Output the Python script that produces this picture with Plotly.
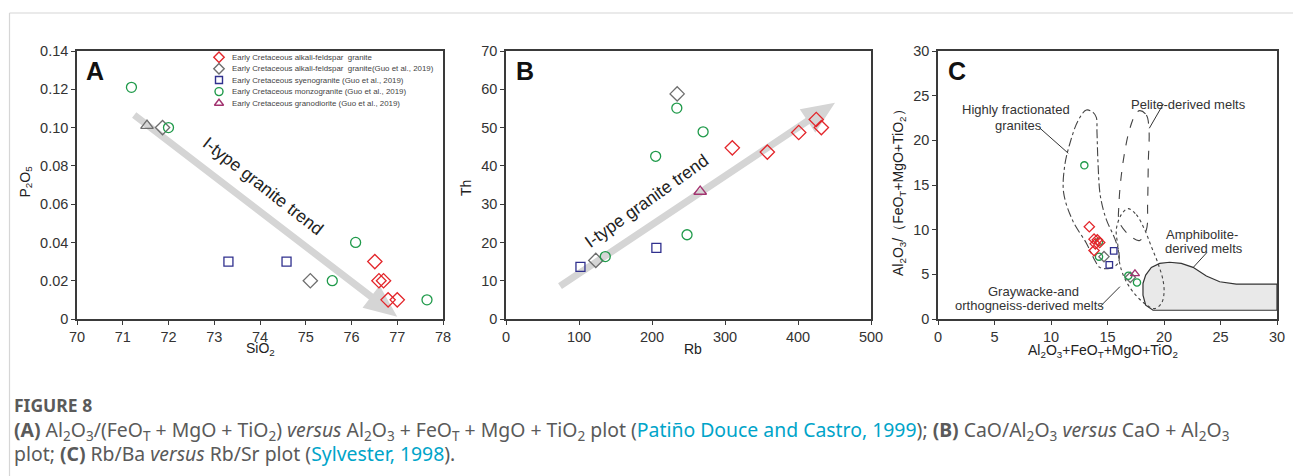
import math
import plotly.graph_objects as go

W, H = 1293, 476

# ---------------- data ----------------
# Panel A : SiO2 vs P2O5
a_red_x = [76.51, 76.6, 76.7, 76.8, 77.0]
a_red_y = [0.03, 0.02, 0.02, 0.01, 0.01]
a_grey_x = [71.87, 75.1]
a_grey_y = [0.10, 0.02]
a_blue_x = [73.31, 74.58]
a_blue_y = [0.03, 0.03]
a_green_x = [71.19, 72.0, 76.09, 75.58, 77.65]
a_green_y = [0.121, 0.10, 0.04, 0.02, 0.01]
a_tri_x = [71.53]
a_tri_y = [0.101]

# Panel B : Rb vs Th
b_red_x = [310, 358, 401, 425, 432]
b_red_y = [44.7, 43.6, 48.7, 52.1, 50.0]
b_grey_x = [234.5, 123]
b_grey_y = [58.8, 15.3]
b_blue_x = [102, 206]
b_blue_y = [13.6, 18.6]
b_green_x = [234, 205, 270, 248, 136]
b_green_y = [55.1, 42.5, 48.9, 22.0, 16.3]
b_tri_x = [266]
b_tri_y = [33.3]

# Panel C : Al2O3+FeOT+MgO+TiO2 vs Al2O3/(FeOT+MgO+TiO2)
c_red_x = [13.39, 13.81, 14.1, 14.31, 13.92, 13.81]
c_red_y = [10.33, 8.94, 8.86, 8.56, 8.41, 7.66]
c_grey_x = [14.69, 17.02]
c_grey_y = [6.98, 4.66]
c_blue_x = [15.55, 15.16]
c_blue_y = [7.62, 6.05]
c_green_x = [12.95, 14.25, 14.25, 16.84, 17.61]
c_green_y = [17.2, 6.98, 8.64, 4.84, 4.09]
c_tri_x = [17.43]
c_tri_y = [5.07]

# field outlines in panel C
hf_x = [13.13, 13.72, 14.01, 14.07, 14.16, 14.37, 14.9, 15.63, 16.02, 15.93, 15.19, 14.31, 13.86,
        13.13, 11.95, 11.12, 11.21, 11.65, 12.39, 13.13]
hf_y = [23.39, 23.13, 22.57, 20.88, 17.5, 13.74, 11.12, 9.05, 7.36, 6.23, 5.67, 5.78, 6.61,
        8.49, 10.93, 14.12, 17.12, 19.56, 22.19, 23.39]
pel_x = [17.85, 18.44, 18.67, 18.61, 18.55, 18.44, 17.85, 17.26, 16.08, 16.02, 16.37, 16.96, 17.49, 17.85]
pel_y = [23.32, 22.83, 21.25, 17.5, 12.99, 9.99, 8.79, 9.05, 10.74, 12.99, 17.5, 21.25, 22.94, 23.32]
gw_x = [16.81, 17.55, 18.29, 18.88, 19.47, 19.91, 20.0, 19.76, 19.17, 18.29, 17.26, 16.52, 16.08,
        15.93, 15.78, 16.22, 16.81]
gw_y = [12.35, 11.68, 9.99, 8.11, 6.23, 4.36, 2.85, 1.73, 1.16, 1.73, 3.04, 4.54, 6.23,
        8.11, 9.99, 11.68, 12.35]
am_x = [30.0, 19.03, 18.38, 18.14, 18.14, 18.38, 18.88, 19.62, 20.5, 21.53, 22.57, 23.75, 24.93, 26.4, 30.0, 30.0]
am_y = [0.98, 0.98, 1.54, 2.67, 3.98, 4.92, 5.78, 6.23, 6.35, 6.23, 5.78, 4.81, 4.17, 3.9, 3.9, 0.98]

legend_labels = [
    "Early Cretaceous alkali-feldspar  granite",
    "Early Cretaceous alkali-feldspar  granite(Guo et al., 2019)",
    "Early Cretaceous syenogranite (Guo et al., 2019)",
    "Early Cretaceous monzogranite (Guo et al., 2019)",
    "Early Cretaceous granodiorite (Guo et al., 2019)",
]

a_xticks = [70, 71, 72, 73, 74, 75, 76, 77, 78]
a_yticks = [0, 0.02, 0.04, 0.06, 0.08, 0.10, 0.12, 0.14]
a_yticktext = ["0", "0.02", "0.04", "0.06", "0.08", "0.10", "0.12", "0.14"]
b_xticks = [0, 100, 200, 300, 400, 500]
b_yticks = [0, 10, 20, 30, 40, 50, 60, 70]
c_ticks = [0, 5, 10, 15, 20, 25, 30]

# ---------------- styles ----------------
RED = "#e3262b"
GREY = "#6e6e6e"
BLUE = "#30308e"
GREEN = "#1f9a4a"
PURP = "#a2336f"
AXC = "#3a3a3a"
FONT = "Liberation Sans, Arial, sans-serif"

# pixel geometry of the three panels
TOP, BOT = 51, 319
PX = {"A": (77, 443), "B": (506, 871), "C": (938, 1277)}
RNG = {"A": ((70, 78), (0, 0.14)), "B": ((0, 500), (0, 70)), "C": ((0, 30), (0, 30))}

fig = go.Figure()


def add_series(xs, ys, sym, col, size, ax, lw=1.3):
    fig.add_trace(go.Scatter(
        x=xs, y=ys, mode="markers", xaxis=ax[0], yaxis=ax[1], showlegend=False,
        marker=dict(symbol=sym, size=size, color=col, line=dict(color=col, width=lw)),
        hoverinfo="x+y"))


# Panel C fields (drawn first)
fig.add_trace(go.Scatter(x=am_x, y=am_y, mode="lines", fill="toself", fillcolor="#e9e9e9",
                         line=dict(color="#333", width=1.2), xaxis="x3", yaxis="y3",
                         showlegend=False, hoverinfo="skip"))
fig.add_trace(go.Scatter(x=hf_x, y=hf_y, mode="lines", line=dict(color="#444", width=1.1, dash="dashdot", shape="spline"),
                         xaxis="x3", yaxis="y3", showlegend=False, hoverinfo="skip"))
fig.add_trace(go.Scatter(x=pel_x, y=pel_y, mode="lines", line=dict(color="#444", width=1.1, dash="dash", shape="spline"),
                         xaxis="x3", yaxis="y3", showlegend=False, hoverinfo="skip"))
fig.add_trace(go.Scatter(x=gw_x, y=gw_y, mode="lines", line=dict(color="#444", width=1.1, dash="dot", shape="spline"),
                         xaxis="x3", yaxis="y3", showlegend=False, hoverinfo="skip"))

for ax, d, ms in [(("x", "y"), "a", 1.0), (("x2", "y2"), "b", 1.0), (("x3", "y3"), "c", 0.72)]:
    g = globals()
    add_series(g[d + "_grey_x"], g[d + "_grey_y"], "diamond-open", GREY, 11 * ms, ax)
    add_series(g[d + "_blue_x"], g[d + "_blue_y"], "square-open", BLUE, 9 * ms, ax)
    add_series(g[d + "_green_x"], g[d + "_green_y"], "circle-open", GREEN, 10 * ms, ax)
    add_series(g[d + "_tri_x"], g[d + "_tri_y"], "triangle-up-open", GREY if d == "a" else PURP, 11 * ms, ax)
    add_series(g[d + "_red_x"], g[d + "_red_y"], "diamond-open", RED, 11 * ms, ax)

# legend keys on a pixel overlay axis
leg_px_x = 219
leg_rows = [57.3, 68.7, 80.0, 91.6, 103.2]
leg_sym = ["diamond-open", "diamond-open", "square-open", "circle-open", "triangle-up-open"]
leg_col = [RED, GREY, BLUE, GREEN, PURP]
leg_size = [8, 8, 7, 8, 8]
for yy, s, c, sz in zip(leg_rows, leg_sym, leg_col, leg_size):
    fig.add_trace(go.Scatter(x=[leg_px_x], y=[yy], mode="markers", xaxis="x4", yaxis="y4", showlegend=False,
                             marker=dict(symbol=s, size=sz, color=c, line=dict(color=c, width=1.4)),
                             hoverinfo="skip"))

annotations = []
for lab, yy in zip(legend_labels, leg_rows):
    annotations.append(dict(x=230 / W, y=1 - yy / H, xref="paper", yref="paper", text=lab, showarrow=False,
                            xanchor="left", yanchor="middle", font=dict(family=FONT, size=7.9, color="#444")))


# -------- arrows (drawn below markers) --------
def arrow_shape(panel, p0, p1, axn, shaft=7.0, head_len=33.0, head_half=14.0):
    (x0r, x1r), (y0r, y1r) = RNG[panel]
    px0, px1 = PX[panel]

    def to_px(x, y):
        return (px0 + (x - x0r) / (x1r - x0r) * (px1 - px0), BOT - (y - y0r) / (y1r - y0r) * (BOT - TOP))

    def to_d(px, py):
        return (x0r + (px - px0) / (px1 - px0) * (x1r - x0r), y0r + (BOT - py) / (BOT - TOP) * (y1r - y0r))

    sx, sy = to_px(*p0)
    ex, ey = to_px(*p1)
    L = math.hypot(ex - sx, ey - sy)
    ux, uy = (ex - sx) / L, (ey - sy) / L
    nx, ny = -uy, ux
    bx, by = ex - ux * head_len, ey - uy * head_len
    pts = [(sx + nx * shaft / 2, sy + ny * shaft / 2), (bx + nx * shaft / 2, by + ny * shaft / 2),
           (bx + nx * head_half, by + ny * head_half), (ex, ey),
           (bx - nx * head_half, by - ny * head_half), (bx - nx * shaft / 2, by - ny * shaft / 2),
           (sx - nx * shaft / 2, sy - ny * shaft / 2)]
    dp = [to_d(*p) for p in pts]
    path = "M " + " L ".join(f"{x:.5f},{y:.6f}" for x, y in dp) + " Z"
    return dict(type="path", path=path, xref=axn[0], yref=axn[1], fillcolor="#d5d5d5",
                line=dict(width=0), layer="below")


shapes = []
shapes.append(arrow_shape("A", (71.25, 0.1066), (77.0, 0.0012), ("x", "y")))
shapes.append(arrow_shape("B", (74, 8.6), (450.7, 56.5), ("x2", "y2")))

# leader lines panel C
for (xa, ya, xb, yb) in [(9.03, 21.35, 11.53, 18.55), (19.94, 24.07, 18.7, 21.35),
                         (22.6, 5.79, 23.78, 7.42), (14.34, 1.38, 16.1, 3.62)]:
    shapes.append(dict(type="line", x0=xa, y0=ya, x1=xb, y1=yb, xref="x3", yref="y3",
                       line=dict(color="#333", width=1)))

# page frame lines
shapes.append(dict(type="line", xref="paper", yref="paper", x0=9.5 / W, x1=1, y0=1 - 13 / H, y1=1 - 13 / H,
                   line=dict(color="#d6d6d6", width=1.2)))
shapes.append(dict(type="line", xref="paper", yref="paper", x0=9.5 / W, x1=9.5 / W, y0=0, y1=1 - 13 / H,
                   line=dict(color="#d6d6d6", width=1.2)))

# trend texts
annotations.append(dict(x=74.07, y=0.0697, xref="x", yref="y", text="I-type granite trend", showarrow=False,
                        textangle=38, font=dict(family=FONT, size=17.5, color="#222")))
annotations.append(dict(x=192.4, y=30.9, xref="x2", yref="y2", text="I-type granite trend", showarrow=False,
                        textangle=-35.5, font=dict(family=FONT, size=17.5, color="#222")))


def pann(px, py, text, font, **kw):
    d = dict(x=px / W, y=1 - py / H, xref="paper", yref="paper", text=text, showarrow=False,
             xanchor="center", yanchor="middle", font=font)
    d.update(kw)
    return d


# panel letters
for lab, px in [("A", 95), ("B", 524.5), ("C", 957)]:
    annotations.append(pann(px, 70.5, "<b>" + lab + "</b>", dict(family=FONT, size=25, color="#111")))

# panel C field labels
for txt, x, y in [("Highly fractionated", 6.9, 23.4), ("granites", 7.08, 21.7),
                  ("Pelite-derived melts", 22.17, 23.96), ("Amphibolite-", 23.4, 9.5),
                  ("derived melts", 23.54, 7.87), ("Graywacke-and", 8.44, 3.13),
                  ("orthogneiss-derived melts", 8.14, 1.46)]:
    annotations.append(dict(x=x, y=y, xref="x3", yref="y3", text=txt, showarrow=False,
                            font=dict(family=FONT, size=13, color="#333")))

# axis titles
TF = dict(family=FONT, size=14, color="#222")
annotations += [
    pann(260, 349, "SiO<sub>2</sub>", TF),
    pann(693, 349, "Rb", TF),
    pann(1103, 351, "Al<sub>2</sub>O<sub>3</sub>+FeO<sub>T</sub>+MgO+TiO<sub>2</sub>", TF),
    pann(25.5, 182, "P<sub>2</sub>O<sub>5</sub>", TF, textangle=-90),
    pann(466, 188, "Th", TF, textangle=-90),
    pann(899, 189, "Al<sub>2</sub>O<sub>3</sub>/（FeO<sub>T</sub>+MgO+TiO<sub>2</sub>）", TF, textangle=-90),
]

# caption
CAPF = "Noto Sans, Open Sans, sans-serif"
LINK = "#00a4c9"
annotations += [
    pann(12, 405, "<b>FIGURE 8</b>", dict(family=CAPF, size=17.5, color="#5a5a5a"), xanchor="left"),
    pann(12, 430,
         "<b>(A)</b> Al<sub>2</sub>O<sub>3</sub>/(FeO<sub>T</sub> + MgO + TiO<sub>2</sub>) <i>versus</i> "
         "Al<sub>2</sub>O<sub>3</sub> + FeO<sub>T</sub> + MgO + TiO<sub>2</sub> plot "
         f"(<span style='color:{LINK}'>Patiño Douce and Castro, 1999</span>); <b>(B)</b> "
         "CaO/Al<sub>2</sub>O<sub>3</sub> <i>versus</i> CaO + Al<sub>2</sub>O<sub>3</sub>",
         dict(family=CAPF, size=19.4, color="#5a5a5a"), xanchor="left"),
    pann(12, 453.5,
         f"plot; <b>(C)</b> Rb/Ba <i>versus</i> Rb/Sr plot (<span style='color:{LINK}'>Sylvester, 1998</span>).",
         dict(family=CAPF, size=19.4, color="#5a5a5a"), xanchor="left"),
]


def xax(panel, ticks, ticktext=None, anchor="y"):
    px0, px1 = PX[panel]
    d = dict(domain=[px0 / W, px1 / W], range=list(RNG[panel][0]), tickvals=ticks, anchor=anchor,
             showline=True, linecolor=AXC, linewidth=1.6, mirror=True, ticks="outside", ticklen=4,
             tickcolor=AXC, tickwidth=1.2, showgrid=False, zeroline=False, automargin=False,
             tickfont=dict(family=FONT, size=14.5, color="#333"))
    if ticktext:
        d["ticktext"] = ticktext
    return d


def yax(panel, ticks, ticktext=None, anchor="x"):
    d = dict(domain=[1 - BOT / H, 1 - TOP / H], range=list(RNG[panel][1]), tickvals=ticks, anchor=anchor,
             showline=True, linecolor=AXC, linewidth=1.6, mirror=True, ticks="outside", ticklen=4,
             tickcolor=AXC, tickwidth=1.2, showgrid=False, zeroline=False, automargin=False,
             tickfont=dict(family=FONT, size=14.5, color="#333"))
    if ticktext:
        d["ticktext"] = ticktext
    return d


fig.update_layout(
    width=W, height=H, margin=dict(l=0, r=0, t=0, b=0, pad=0, autoexpand=False),
    paper_bgcolor="white", plot_bgcolor="rgba(0,0,0,0)",
    xaxis=xax("A", a_xticks, anchor="y"),
    yaxis=yax("A", a_yticks, a_yticktext, anchor="x"),
    xaxis2=xax("B", b_xticks, anchor="y2"),
    yaxis2=yax("B", b_yticks, anchor="x2"),
    xaxis3=xax("C", c_ticks, anchor="y3"),
    yaxis3=yax("C", c_ticks, anchor="x3"),
    xaxis4=dict(domain=[0, 1], range=[0, W], visible=False, anchor="y4"),
    yaxis4=dict(domain=[0, 1], range=[H, 0], visible=False, anchor="x4"),
    shapes=shapes, annotations=annotations, showlegend=False,
)

fig.write_html("out.html")
